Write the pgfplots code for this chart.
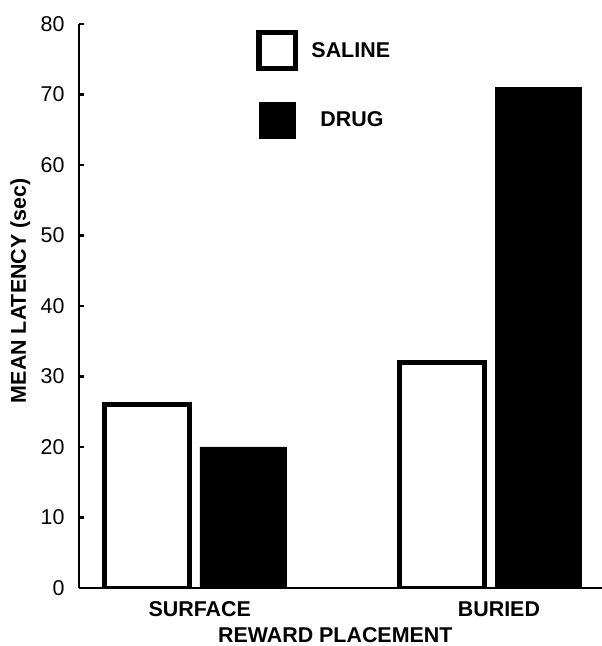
\documentclass[border=0pt]{standalone}
\usepackage{fontspec}
\setmainfont{Liberation Sans}
\usepackage{pgfplots}
\pgfplotsset{compat=1.18}
\begin{document}
\begin{tikzpicture}
\useasboundingbox (-79bp,-58bp) rectangle (523bp,588bp);
\begin{axis}[
  at={(0,0)}, anchor=south west,
  scale only axis, width=523bp, height=564bp,
  xmin=0.608, xmax=2.379, ymin=0, ymax=80,
  axis lines=left,
  axis line style={-, line width=2.5bp},
  ytick={0,10,...,80},
  xtick={1.017,2.03},
  xticklabels={SURFACE,BURIED},
  tick align=inside,
  major tick length=5bp,
  ytick style={line width=2.5bp, black},
  xtick style={draw=none},
  /pgf/number format/assume math mode=true,
  yticklabel style={font=\fontsize{21.5}{25}\selectfont, xshift=-11bp},
  xticklabel style={font=\bfseries\fontsize{21.5}{25}\selectfont, yshift=-10bp},
  xlabel={REWARD PLACEMENT},
  ylabel={MEAN LATENCY (sec)},
  label style={font=\bfseries\fontsize{21.5}{25}\selectfont},
  xlabel style={at={(axis description cs:0.49,-0.083)}, anchor=center},
  ylabel style={at={(axis description cs:-0.112,0.527)}, anchor=center},
  legend image code/.code={\draw[#1] (0bp,-18bp) rectangle (36bp,18bp);},
  legend style={at={(axis description cs:0.339,0.99)}, anchor=north west,
    draw=none, fill=none, font=\bfseries\fontsize{21.5}{25}\selectfont,
    row sep=31bp, inner sep=0pt,
    /tikz/every odd column/.append style={column sep=12bp}},
  legend cell align=left,
]
\addplot[ybar, bar width=85bp, bar shift=-48bp, fill=white, draw=black, line width=5bp] coordinates {(1,26) (2,32)};
\addplot[ybar, bar width=86bp, bar shift=48bp, fill=black, draw=black, line width=0.5bp] coordinates {(1,20) (2,71)};
\legend{SALINE, \hspace*{9bp}DRUG}
\end{axis}
\end{tikzpicture}
\end{document}
